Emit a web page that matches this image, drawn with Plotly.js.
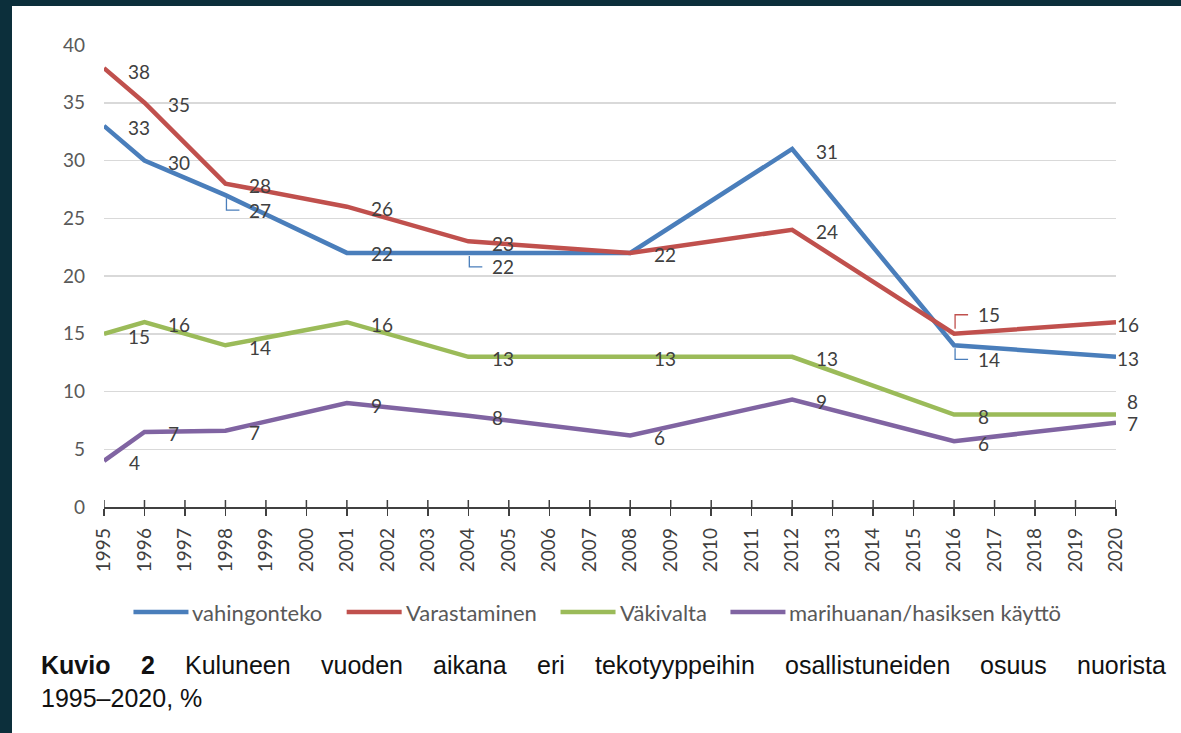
<!DOCTYPE html>
<html><head><meta charset="utf-8">
<script src="https://cdn.plot.ly/plotly-3.0.1.min.js"></script>
<style>
html,body{margin:0;padding:0;background:#0c2f3b;width:1181px;height:733px;overflow:hidden}
#chart{position:absolute;left:12px;top:6px;width:1169px;height:727px;background:#fff}
</style></head><body><div id="chart"></div>
<script>
// ---- data ----
const years = [1995, 1996, 1998, 2001, 2004, 2008, 2012, 2016, 2020];
const vahingonteko = [33, 30, 27, 22, 22, 22, 31, 14, 13];
const varastaminen = [38, 35, 28, 26, 23, 22, 24, 15, 16];
const vakivalta = [15, 16, 14, 16, 13, 13, 13, 8, 8];
const marihuana = [4, 6.5, 6.6, 9, 7.9, 6.2, 9.3, 5.7, 7.3];
const seriesNames = ['vahingonteko', 'Varastaminen', 'Väkivalta', 'marihuanan/hasiksen käyttö'];
const tickYears = ['1995','1996','1997','1998','1999','2000','2001','2002','2003','2004','2005','2006','2007','2008','2009','2010','2011','2012','2013','2014','2015','2016','2017','2018','2019','2020'];
const yTicks = [0, 5, 10, 15, 20, 25, 30, 35, 40];
const captionBold = ['Kuvio', '2'];
const captionWords = ['Kuluneen', 'vuoden', 'aikana', 'eri', 'tekotyyppeihin', 'osallistuneiden', 'osuus', 'nuorista'];
const captionLine2 = '1995–2020, %';

// ---- styles ----
const colors = ['#4a7ebb', '#c0504d', '#9bbb59', '#8064a2'];
const allSeries = [vahingonteko, varastaminen, vakivalta, marihuana];
// label offsets in pixels [xshift, yshift, leader]
const D = [22, -2];
const labelOffsets = [
  [D, D, [22, -15, 1], [22, -1], [22, -14, 1], null, [22, -3], [22, -14, 1], [-1, -2]],
  [[22, -3], D, D, D, D, D, D, [22, 19, 1], [-1, -2]],
  [[22, -3], D, D, D, D, D, D, D, [9, 13]],
  [[23, -2], D, D, D, D, D, D, D, [9, -1]]
];

const PL = 104, PR = 1116, PT = 45, PB = 507; // page pixels of plot area
const px = x => (x - PL) / (PR - PL);
const py = y => (PB - y) / (PB - PT);

const canvas = document.createElement('canvas');
const ctx = canvas.getContext('2d');
function tw(text, font) { ctx.font = font; return ctx.measureText(text).width; }

const traces = allSeries.map((vals, s) => ({
  x: years, y: vals, type: 'scatter', mode: 'lines', name: seriesNames[s],
  line: {color: colors[s], width: 4.5}, cliponaxis: false, hoverinfo: 'skip', showlegend: false
}));

const annotations = [];
const shapes = [];
const labelFont = {family: 'Lato', size: 19, color: '#404040'};
allSeries.forEach((vals, s) => {
  vals.forEach((v, i) => {
    const off = labelOffsets[s][i];
    if (!off) return;
    annotations.push({x: years[i], y: v, xref: 'x', yref: 'y', text: String(Math.round(v)),
      showarrow: false, xanchor: 'left', yanchor: 'middle', xshift: off[0], yshift: off[1], font: labelFont});
    if (off[2]) {
      const dy = off[1];
      shapes.push({type: 'path', xref: 'x', yref: 'y', xsizemode: 'pixel', ysizemode: 'pixel',
        xanchor: years[i], yanchor: v,
        path: `M 1,${dy > 0 ? 5 : -3} L 1,${dy} L 14,${dy}`,
        line: {color: colors[s], width: 1.3}});
    }
  });
});

// crossing ticks (inner half)
tickYears.forEach(t => {
  shapes.push({type: 'line', xref: 'x', yref: 'y', ysizemode: 'pixel', yanchor: 0,
    x0: +t, x1: +t, y0: 0, y1: 7, line: {color: '#404040', width: 1.5}});
});

// legend (custom)
const legFontSize = 22;
const legFont = `${legFontSize}px Lato`;
const sampleLen = 55, sampleGap = 3, itemGap = 25;
const widths = seriesNames.map(n => tw(n, legFont));
const total = widths.reduce((a, b) => a + b, 0) + 4 * (sampleLen + sampleGap) + 3 * itemGap;
let cx = 597 - total / 2;
const legY = 612;
seriesNames.forEach((n, s) => {
  shapes.push({type: 'line', xref: 'paper', yref: 'paper', x0: px(cx), x1: px(cx + sampleLen),
    y0: py(legY), y1: py(legY), line: {color: colors[s], width: 4.5}});
  annotations.push({xref: 'paper', yref: 'paper', x: px(cx + sampleLen + sampleGap - 1), y: py(legY),
    text: n, showarrow: false, xanchor: 'left', yanchor: 'middle',
    font: {family: 'Lato', size: legFontSize, color: '#595959'}});
  cx += sampleLen + sampleGap + widths[s] + itemGap;
});

// caption line 1 justified
const capSize = 25;
const capWords = captionBold.map(w => ({t: w, b: true})).concat(captionWords.map(w => ({t: w, b: false})));
const capW = capWords.map(w => tw(w.t, `${w.b ? 'bold ' : ''}${capSize}px "Liberation Sans"`));
const capLeft = 40, capRight = 1165;
const gap = (capRight - capLeft - capW.reduce((a, b) => a + b, 0)) / (capWords.length - 1);
let wx = capLeft;
capWords.forEach((w, k) => {
  annotations.push({xref: 'paper', yref: 'paper', x: px(wx - 1), y: py(665), text: w.t, showarrow: false,
    xanchor: 'left', yanchor: 'middle',
    font: {family: 'Liberation Sans', size: capSize, color: '#111', weight: w.b ? 'bold' : 'normal'}});
  wx += capW[k] + gap;
});
annotations.push({xref: 'paper', yref: 'paper', x: px(capLeft - 1), y: py(698), text: captionLine2, showarrow: false,
  xanchor: 'left', yanchor: 'middle', font: {family: 'Liberation Sans', size: capSize, color: '#111'}});

const layout = {
  width: 1169, height: 727,
  margin: {l: PL - 12, r: 1181 - PR, t: PT - 6, b: 727 - (PB - 6)},
  paper_bgcolor: '#ffffff', plot_bgcolor: '#ffffff',
  showlegend: false,
  xaxis: {type: 'linear', range: [1995, 2020], tickvals: tickYears.map(Number), ticktext: tickYears,
    tickangle: -90, showgrid: false, zeroline: false, showline: true, linecolor: '#404040', linewidth: 1.5,
    ticks: 'outside', ticklen: 7, tickwidth: 1.5, tickcolor: '#404040', ticklabelstandoff: 5,
    tickfont: {family: 'Lato', size: 19, color: '#404040'}, fixedrange: true},
  yaxis: {range: [0, 40], tickvals: yTicks, showgrid: true, gridcolor: '#d9d9d9', gridwidth: 1.5,
    zeroline: false, showline: false, ticks: '', ticklabelstandoff: 18,
    tickfont: {family: 'Lato', size: 19, color: '#595959'}, fixedrange: true},
  annotations: annotations,
  shapes: shapes,
  hovermode: false
};

Plotly.newPlot('chart', traces, layout, {staticPlot: true, displayModeBar: false});
</script>
</body></html>
